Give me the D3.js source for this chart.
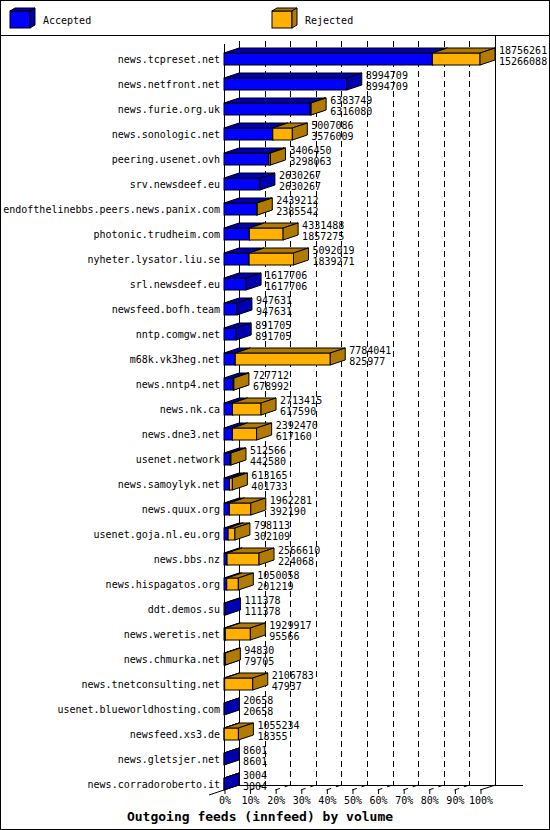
<!DOCTYPE html>
<html>
<head>
<meta charset="utf-8">
<script src="https://cdn.jsdelivr.net/npm/d3@7"></script>
<style>
  body { margin: 0; background: #fff; }
  svg text { font-family: "DejaVu Sans Mono", monospace; fill: #000; }
</style>
</head>
<body>
<svg id="chart"></svg>
<script>
// Feed names, sorted by accepted volume
const hosts = [
    "news.tcpreset.net", "news.netfront.net", "news.furie.org.uk", "news.sonologic.net",
    "peering.usenet.ovh", "srv.newsdeef.eu", "endofthelinebbs.peers.news.panix.com",
    "photonic.trudheim.com", "nyheter.lysator.liu.se", "srl.newsdeef.eu", "newsfeed.bofh.team",
    "nntp.comgw.net", "m68k.vk3heg.net", "news.nntp4.net", "news.nk.ca", "news.dne3.net",
    "usenet.network", "news.samoylyk.net", "news.quux.org", "usenet.goja.nl.eu.org",
    "news.bbs.nz", "news.hispagatos.org", "ddt.demos.su", "news.weretis.net",
    "news.chmurka.net", "news.tnetconsulting.net", "usenet.blueworldhosting.com",
    "newsfeed.xs3.de", "news.gletsjer.net", "news.corradoroberto.it"
];

// Offered (top label) and accepted (bottom label) volumes
const offered = [
    18756261, 8994709, 6383749, 5007086, 3406450, 2630267, 2439212, 4331488, 5092019,
    1617706, 947631, 891705, 7784041, 727712, 2713415, 2392470, 512566, 613165, 1962281,
    798113, 2566610, 1050058, 111378, 1929917, 94830, 2106783, 20658, 1055234, 8601, 3004
];
const accepted = [
    15266088, 8994709, 6316080, 3576009, 3298063, 2630267, 2385542, 1857275, 1839271,
    1617706, 947631, 891705, 825977, 678992, 617590, 617160, 442580, 401733, 392190,
    302109, 224068, 201219, 111378, 95566, 79705, 47937, 20658, 18355, 8601, 3004
];

const tickPercents = [0, 10, 20, 30, 40, 50, 60, 70, 80, 90, 100];
const legendItems = ["Accepted", "Rejected"];

const width = 550, height = 830;
const depthX = 15, depthY = 5;     // 3D offset of the back wall
const halfBar = 6;
const floorY = 790;

const colors = { Accepted: ["#0000ff", "#0000b0"], Rejected: ["#ffb000", "#b07b00"] };

const svg = d3.select("#chart")
    .attr("width", width)
    .attr("height", height);

// frame and legend separator
svg.append("rect")
    .attr("x", 0.5).attr("y", 0.5)
    .attr("width", width - 1).attr("height", height - 1)
    .attr("fill", "none").attr("stroke", "#000");
svg.append("line")
    .attr("x1", 0).attr("x2", width)
    .attr("y1", 35.5).attr("y2", 35.5)
    .attr("stroke", "#000");

// scales
const x = d3.scaleLinear().domain([0, d3.max(offered)]).range([224, 480]);
const xPct = d3.scaleLinear().domain([0, 100]).range([224, 480]);
const y = d3.scalePoint().domain(hosts).range([59, 784]);

// draws one 3D box from a to b at row centre yc
function box(g, a, b, yc, fill, shade) {
    const yt = yc - halfBar, yb = yc + halfBar;
    g.append("rect")
        .attr("x", a).attr("y", yt)
        .attr("width", b - a).attr("height", yb - yt)
        .attr("fill", fill).attr("stroke", "#000");
    g.append("polygon")
        .attr("points", [[a, yt], [a + depthX, yt - depthY], [b + depthX, yt - depthY], [b, yt]].join(" "))
        .attr("fill", shade).attr("stroke", "#000").attr("stroke-linejoin", "round");
    g.append("polygon")
        .attr("points", [[b, yt], [b + depthX, yt - depthY], [b + depthX, yb - depthY], [b, yb]].join(" "))
        .attr("fill", shade).attr("stroke", "#000").attr("stroke-linejoin", "round");
}

// legend
const legend = svg.append("g");
legendItems.forEach((name, i) => {
    const lx = [10, 272][i];
    const lg = legend.append("g");
    lg.append("rect")
        .attr("x", lx).attr("y", 11).attr("width", 20).attr("height", 17)
        .attr("fill", colors[name][0]).attr("stroke", "#000");
    lg.append("polygon")
        .attr("points", [[lx, 11], [lx + 5, 8], [lx + 25, 8], [lx + 20, 11]].join(" "))
        .attr("fill", colors[name][1]).attr("stroke", "#000");
    lg.append("polygon")
        .attr("points", [[lx + 20, 11], [lx + 25, 8], [lx + 25, 25], [lx + 20, 28]].join(" "))
        .attr("fill", colors[name][1]).attr("stroke", "#000");
    lg.append("text")
        .attr("x", lx + 33).attr("y", 24)
        .style("font-size", "10px")
        .text(name);
});

// back wall
const wall = svg.append("g");
wall.selectAll(".grid")
    .data(tickPercents.slice(1, -1))
    .join("line")
    .attr("x1", d => Math.round(xPct(d) + depthX) + 0.5)
    .attr("x2", d => Math.round(xPct(d) + depthX) + 0.5)
    .attr("y1", 41).attr("y2", floorY - depthY)
    .attr("stroke", "#000").attr("stroke-dasharray", "6,4");
wall.append("line")
    .attr("x1", 239.5).attr("x2", 239.5).attr("y1", 41).attr("y2", floorY - depthY)
    .attr("stroke", "#000");
wall.append("line")
    .attr("x1", 495.5).attr("x2", 495.5).attr("y1", 36).attr("y2", floorY - depthY)
    .attr("stroke", "#000");
// floor
wall.append("line")
    .attr("x1", 239).attr("x2", 523).attr("y1", floorY - depthY + 0.5).attr("y2", floorY - depthY + 0.5)
    .attr("stroke", "#000");
wall.append("line")
    .attr("x1", 209).attr("y1", floorY + 5).attr("x2", 239).attr("y2", floorY - depthY)
    .attr("stroke", "#000");
wall.append("line")
    .attr("x1", 480).attr("y1", floorY).attr("x2", 495.5).attr("y2", floorY - depthY)
    .attr("stroke", "#000");
wall.selectAll(".floorgrid")
    .data(tickPercents.slice(1, -1))
    .join("line")
    .attr("x1", d => xPct(d)).attr("y1", floorY)
    .attr("x2", d => xPct(d) + depthX).attr("y2", floorY - depthY)
    .attr("stroke", "#000").attr("stroke-dasharray", "5,5");
// front axis line
wall.append("line")
    .attr("x1", 224.5).attr("x2", 224.5).attr("y1", 44).attr("y2", floorY)
    .attr("stroke", "#000");

// bars
const bars = svg.append("g");
hosts.forEach((h, i) => {
    const yc = y(h);
    const g = bars.append("g");
    box(g, x(0), x(accepted[i]), yc, colors.Accepted[0], colors.Accepted[1]);
    if (offered[i] > accepted[i]) {
        box(g, x(accepted[i]), x(offered[i]), yc, colors.Rejected[0], colors.Rejected[1]);
    }
    // value labels
    const tx = x(offered[i]) + 19;
    g.append("text").attr("x", tx).attr("y", yc - 5.5)
        .style("font-size", "10px").text(offered[i]);
    g.append("text").attr("x", tx).attr("y", yc + 5.5)
        .style("font-size", "10px").text(accepted[i]);
    // category label
    g.append("text").attr("x", 220).attr("y", yc + 4)
        .attr("text-anchor", "end")
        .style("font-size", "10px").text(h);
});

// x axis ticks
const xAxis = svg.append("g")
    .attr("transform", `translate(0.5, ${floorY})`)
    .call(d3.axisBottom(xPct).tickValues(tickPercents).tickSize(4).tickPadding(3).tickFormat(d => d + "%"));
xAxis.select(".domain").remove();
xAxis.selectAll("text")
    .style("font-family", "DejaVu Sans Mono, monospace")
    .style("font-size", "10px")
    .attr("fill", "#000");

// title
svg.append("text")
    .attr("x", 260).attr("y", 821)
    .attr("text-anchor", "middle")
    .style("font-size", "13px")
    .style("font-weight", "bold")
    .text("Outgoing feeds (innfeed) by volume");
</script>
</body>
</html>
